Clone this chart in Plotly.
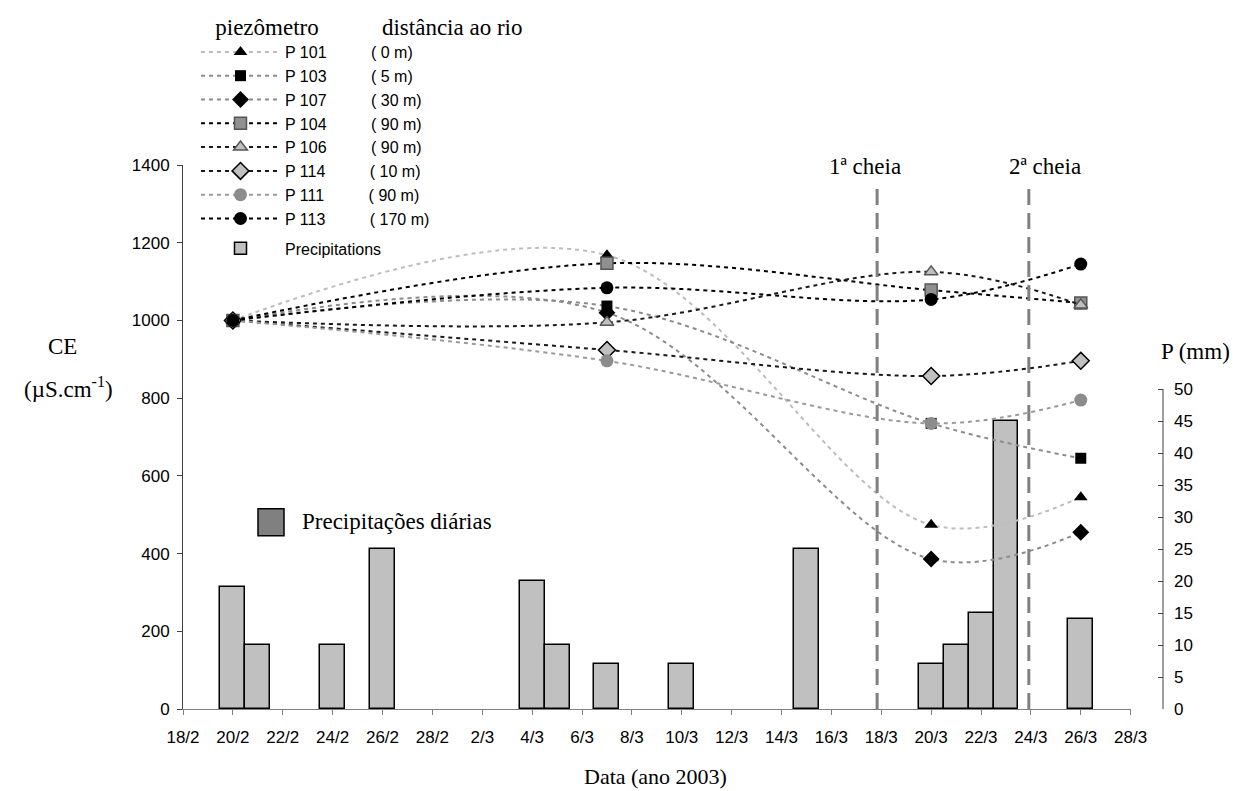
import plotly.graph_objects as go

# ---------------- data ----------------
ce_dates = ["2003-02-20", "2003-03-07", "2003-03-20", "2003-03-26"]

piezometers = ["P 101", "P 103", "P 107", "P 104", "P 106", "P 114", "P 111", "P 113"]
distances = ["( 0 m)", "( 5 m)", "( 30 m)", "( 90 m)", "( 90 m)", "( 10 m)", "( 90 m)", "( 170 m)"]

ce_p101 = [1000, 1168, 474, 545]
ce_p103 = [1000, 1037, 735, 645]
ce_p107 = [1000, 1020, 386, 455]
ce_p104 = [1000, 1147, 1078, 1045]
ce_p106 = [1000, 995, 1125, 1040]
ce_p114 = [1000, 924, 857, 896]
ce_p111 = [1000, 896, 735, 795]
ce_p113 = [1000, 1084, 1054, 1145]

precip_dates = ["2003-02-20", "2003-02-21", "2003-02-24", "2003-02-26", "2003-03-04",
                "2003-03-05", "2003-03-07", "2003-03-10", "2003-03-15", "2003-03-20",
                "2003-03-21", "2003-03-22", "2003-03-23", "2003-03-26"]
precip_mm = [19, 10, 10, 25, 20, 10, 7, 7, 25, 7, 10, 15, 45, 14]

tick_dates = ["2003-02-18", "2003-02-20", "2003-02-22", "2003-02-24", "2003-02-26",
              "2003-02-28", "2003-03-02", "2003-03-04", "2003-03-06", "2003-03-08",
              "2003-03-10", "2003-03-12", "2003-03-14", "2003-03-16", "2003-03-18",
              "2003-03-20", "2003-03-22", "2003-03-24", "2003-03-26", "2003-03-28"]
tick_labels = ["18/2", "20/2", "22/2", "24/2", "26/2", "28/2", "2/3", "4/3", "6/3", "8/3",
               "10/3", "12/3", "14/3", "16/3", "18/3", "20/3", "22/3", "24/3", "26/3", "28/3"]

ce_ticks = [0, 200, 400, 600, 800, 1000, 1200, 1400]
p_ticks = [0, 5, 10, 15, 20, 25, 30, 35, 40, 45, 50]

flood_dates = ["2003-03-17 20:00", "2003-03-23 22:00"]
flood_labels = ["1ª cheia", "2ª cheia"]

# ---------------- styles ----------------
SANS = "Liberation Sans, Arial, sans-serif"
SERIF = "Liberation Serif, Times New Roman, serif"
NB = "\u00a0"

series = [ce_p101, ce_p103, ce_p107, ce_p104, ce_p106, ce_p114, ce_p111, ce_p113]
line_colors = ["#bdbdbd", "#8c8c8c", "#8c8c8c", "#000000", "#1a1a1a", "#1a1a1a", "#9a9a9a", "#000000"]
symbols = ["triangle-up", "square", "diamond", "square", "triangle-up", "diamond", "circle", "circle"]
m_colors = ["#000000", "#000000", "#000000", "#909090", "#c0c0c0", "#c0c0c0", "#8c8c8c", "#000000"]
m_line_colors = ["#000000", "#000000", "#000000", "#555555", "#555555", "#000000", "#8c8c8c", "#000000"]
m_line_widths = [0, 0, 0, 1.5, 1.5, 1.5, 0, 0]
m_sizes = [12, 11, 13, 12, 12, 13, 13, 13]

# plot area in window pixels: x 183..1163 (paper), y 165..709.3
def px(xp):
    return (xp - 183) / 980


def py(yp):
    return (709.3 - yp) / 544.3


fig = go.Figure()

# bars (main y axis = precipitation, drawn below the overlaid CE lines)
fig.add_trace(go.Bar(
    x=precip_dates, y=precip_mm, name="Precipitations",
    width=86400000,
    marker=dict(color="#c0c0c0", line=dict(color="#000000", width=1.5)),
    yaxis="y", legendgroup="p", legendrank=2000,
))

for i, (name, dist, vals) in enumerate(zip(piezometers, distances, series)):
    fig.add_trace(go.Scatter(
        x=ce_dates, y=vals, yaxis="y2", mode="lines+markers",
        name=name + NB * 10 + dist,
        legendgroup="ce", legendrank=1000 + i,
        line=dict(color=line_colors[i], width=2, dash="4px,4px", shape="spline", smoothing=1.0),
        marker=dict(symbol=symbols[i], size=m_sizes[i], color=m_colors[i],
                    line=dict(color=m_line_colors[i], width=m_line_widths[i])),
    ))

shapes = []
for d in flood_dates:
    shapes.append(dict(type="line", xref="x", yref="paper", x0=d, x1=d, y0=0, y1=py(187),
                       line=dict(color="#808080", width=3, dash="16px,8px")))
# right axis line only over its labelled span
shapes.append(dict(type="line", xref="paper", yref="y", x0=1, x1=1, y0=0, y1=50,
                   line=dict(color="#404040", width=1)))
# "Precipitações diárias" key box
shapes.append(dict(type="rect", xref="paper", yref="paper",
                   x0=px(258), x1=px(284), y0=py(536), y1=py(509),
                   fillcolor="#808080", line=dict(color="#000000", width=1.5)))


def ann(text, x, y, xanchor="center", size=22):
    return dict(text=text, xref="paper", yref="paper", x=x, y=y, xanchor=xanchor,
                yanchor="middle", showarrow=False,
                font=dict(family=SERIF, size=size, color="#000"))


annotations = []
for lab, xc in zip(flood_labels, [865, 1045]):
    annotations.append(ann(lab, px(xc), py(167), size=23))
annotations += [
    ann("CE", px(62), py(347), size=23),
    ann("(µS.cm<sup>-1</sup>)", px(68), py(388), size=23),
    ann("P (mm)", px(1195), py(352), size=23),
    ann("Data (ano 2003)", px(655), py(777)),
    ann("Precipitações diárias", px(300), py(522), xanchor="left", size=23),
]

fig.update_layout(
    width=1241, height=783,
    margin=dict(l=175, r=86, t=157, b=82, pad=0, autoexpand=False),
    paper_bgcolor="white", plot_bgcolor="white",
    showlegend=True,
    bargap=0,
    xaxis=dict(type="date", domain=[0, 0.967], range=["2003-02-18", "2003-03-28"],
               tickvals=tick_dates, ticktext=tick_labels, ticks="outside", ticklen=5,
               tickcolor="#808080", showline=True, linecolor="#808080", linewidth=1,
               showgrid=False, zeroline=False, anchor="y", ticklabelstandoff=8,
               tickfont=dict(family=SANS, size=17, color="#000")),
    yaxis=dict(range=[0, 85], side="right", anchor="free", position=1.0,
               tickvals=p_ticks, ticks="inside", ticklen=5, tickcolor="#404040",
               showline=False, showgrid=False, zeroline=False, ticklabelstandoff=10,
               tickfont=dict(family=SANS, size=17, color="#000")),
    yaxis2=dict(range=[0, 1400], overlaying="y", side="left", anchor="x",
                tickvals=ce_ticks, ticks="outside", ticklen=5, tickcolor="#404040",
                showline=True, linecolor="#404040", linewidth=1, showgrid=False,
                zeroline=False, ticklabelstandoff=4,
                tickfont=dict(family=SANS, size=17, color="#000")),
    legend=dict(x=px(196), y=py(5), xanchor="left", yanchor="top",
                bgcolor="rgba(0,0,0,0)", borderwidth=0,
                font=dict(family=SANS, size=16, color="#000"),
                traceorder="grouped", tracegroupgap=6, itemwidth=79,
                title=dict(text=NB * 3 + "piezômetro" + NB * 11 + "distância ao rio",
                           font=dict(family=SERIF, size=23, color="#000"), side="top")),
    shapes=shapes, annotations=annotations,
)

fig.write_html("out.html")
